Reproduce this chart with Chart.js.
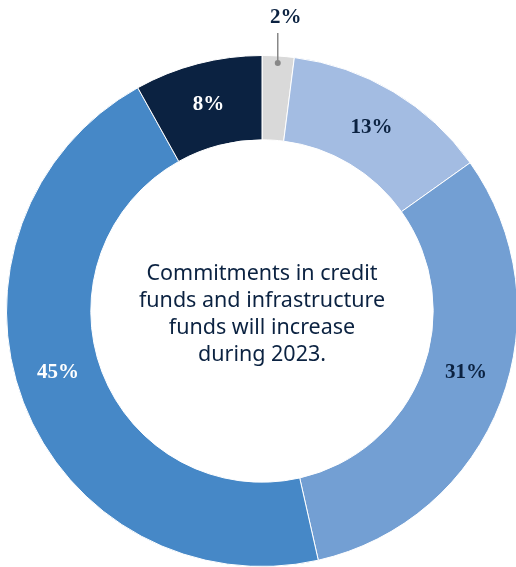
<!DOCTYPE html>
<html>
<head>
<meta charset="utf-8">
<script src="https://cdn.jsdelivr.net/npm/chart.js@4"></script>
<style>
  html, body { margin: 0; padding: 0; background: #fff; overflow: hidden; }
  #wrap { width: 524px; height: 567px; }
</style>
</head>
<body>
<div id="wrap"><canvas id="myChart" width="524" height="567"></canvas></div>
<script>
const labels = ['Other', 'Segment B', 'Segment C', 'Segment D', 'Segment E']
const values = [2, 13, 31, 45, 8]
const colors = ['#d9d9d9', '#a3bce2', '#739fd3', '#4688c7', '#0b2241']
const labelColors = ['#0b2241', '#0b2241', '#0b2241', '#ffffff', '#ffffff']
const centerLines = ['Commitments in credit', 'funds and infrastructure', 'funds will increase', 'during 2023.']

const navy = '#0b2241'
// small rotation of some labels toward the horizontal, like the original layout
const labelNudge = [0, 0, -4, 4, 0]

// draws the % labels on each slice (the small one gets a leader line)
const sliceLabels = {
  id: 'sliceLabels',
  afterDatasetsDraw(chart) {
    const ctx = chart.ctx
    const meta = chart.getDatasetMeta(0)
    ctx.save()
    ctx.font = 'bold 21px "Liberation Serif", serif'
    ctx.textAlign = 'center'
    ctx.textBaseline = 'middle'
    meta.data.forEach((arc, i) => {
      const text = values[i] + '%'
      const mid = (arc.startAngle + arc.endAngle) / 2 + labelNudge[i] * Math.PI / 180
      if (values[i] < 5) {
        const r0 = arc.outerRadius - 7
        const x0 = arc.x + Math.cos(mid) * r0
        const y0 = arc.y + Math.sin(mid) * r0
        ctx.strokeStyle = '#888'
        ctx.lineWidth = 1.5
        ctx.beginPath()
        ctx.moveTo(x0, y0)
        ctx.lineTo(x0, 33)
        ctx.stroke()
        ctx.fillStyle = '#888'
        ctx.beginPath()
        ctx.arc(x0, y0, 3, 0, Math.PI * 2)
        ctx.fill()
        ctx.fillStyle = labelColors[i]
        ctx.fillText(text, x0 + 8, 18)
      } else {
        const r = (arc.innerRadius + arc.outerRadius) / 2
        ctx.fillStyle = labelColors[i]
        ctx.fillText(text, arc.x + Math.cos(mid) * r, arc.y + Math.sin(mid) * r)
      }
    })
    ctx.restore()
  }
}

const centerText = {
  id: 'centerText',
  afterDraw(chart) {
    const ctx = chart.ctx
    const arc = chart.getDatasetMeta(0).data[0]
    ctx.save()
    ctx.font = '21.5px "Noto Sans", sans-serif'
    ctx.fillStyle = navy
    ctx.textAlign = 'center'
    ctx.textBaseline = 'middle'
    const lh = 27
    const top = arc.y + 3 - lh * (centerLines.length - 1) / 2
    centerLines.forEach((line, i) => ctx.fillText(line, arc.x, top + i * lh))
    ctx.restore()
  }
}

new Chart(document.getElementById('myChart'), {
  type: 'doughnut',
  data: {
    labels: labels,
    datasets: [{
      data: values,
      backgroundColor: colors,
      borderColor: '#ffffff',
      borderWidth: 1
    }]
  },
  options: {
    responsive: false,
    animation: false,
    cutout: '67%',
    layout: { padding: { top: 55, left: 0, right: 0, bottom: 0 } },
    plugins: {
      legend: { display: false },
      tooltip: { enabled: false }
    }
  },
  plugins: [sliceLabels, centerText]
})
</script>
</body>
</html>
